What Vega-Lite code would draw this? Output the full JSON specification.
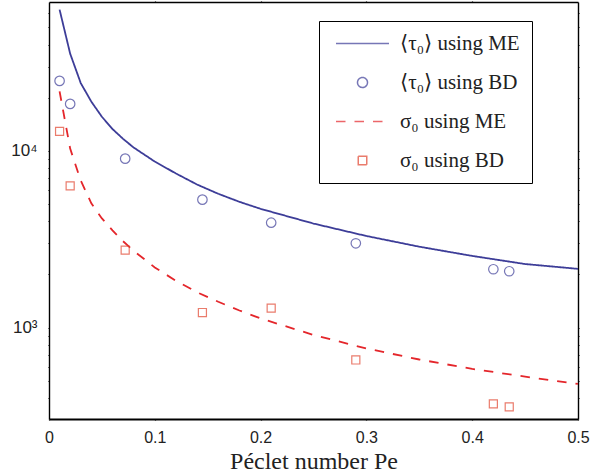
{
  "$schema": "https://vega.github.io/schema/vega-lite/v6.json",
  "width": 529,
  "height": 417,
  "autosize": "none",
  "padding": {"left": 49, "top": 2, "right": 33, "bottom": 55},
  "background": "white",
  "config": {
    "view": {"stroke": null},
    "axis": {"grid": false, "domainColor": "black", "tickColor": "black", "labelColor": "#222222", "labelFont": "Liberation Sans", "labelFontSize": 16, "domainWidth": 1.4, "tickWidth": 1.2, "labelFlush": false},
    "legend": {"orient": "none", "legendX": 270, "legendY": 19, "padding": 12, "rowPadding": 17, "symbolSize": 100, "symbolOffset": 21, "labelOffset": 27, "labelFont": "Liberation Serif, DejaVu Serif", "labelFontSize": 21, "labelColor": "#222222", "strokeColor": "black", "fillColor": "white", "symbolStrokeWidth": 1.5, "labelLimit": 300}
  },
  "data": {"values": [
    {"pe": 0.01, "val": 63000, "method": "ME", "series": "⟨τ₀⟩ using ME"},
    {"pe": 0.02, "val": 35500, "method": "ME", "series": "⟨τ₀⟩ using ME"},
    {"pe": 0.03, "val": 24200, "method": "ME", "series": "⟨τ₀⟩ using ME"},
    {"pe": 0.04, "val": 19000, "method": "ME", "series": "⟨τ₀⟩ using ME"},
    {"pe": 0.05, "val": 15600, "method": "ME", "series": "⟨τ₀⟩ using ME"},
    {"pe": 0.06, "val": 13300, "method": "ME", "series": "⟨τ₀⟩ using ME"},
    {"pe": 0.07, "val": 11700, "method": "ME", "series": "⟨τ₀⟩ using ME"},
    {"pe": 0.08, "val": 10450, "method": "ME", "series": "⟨τ₀⟩ using ME"},
    {"pe": 0.1, "val": 8700, "method": "ME", "series": "⟨τ₀⟩ using ME"},
    {"pe": 0.12, "val": 7450, "method": "ME", "series": "⟨τ₀⟩ using ME"},
    {"pe": 0.14, "val": 6450, "method": "ME", "series": "⟨τ₀⟩ using ME"},
    {"pe": 0.16, "val": 5720, "method": "ME", "series": "⟨τ₀⟩ using ME"},
    {"pe": 0.18, "val": 5150, "method": "ME", "series": "⟨τ₀⟩ using ME"},
    {"pe": 0.2, "val": 4700, "method": "ME", "series": "⟨τ₀⟩ using ME"},
    {"pe": 0.25, "val": 3880, "method": "ME", "series": "⟨τ₀⟩ using ME"},
    {"pe": 0.3, "val": 3300, "method": "ME", "series": "⟨τ₀⟩ using ME"},
    {"pe": 0.35, "val": 2870, "method": "ME", "series": "⟨τ₀⟩ using ME"},
    {"pe": 0.4, "val": 2545, "method": "ME", "series": "⟨τ₀⟩ using ME"},
    {"pe": 0.45, "val": 2290, "method": "ME", "series": "⟨τ₀⟩ using ME"},
    {"pe": 0.5, "val": 2150, "method": "ME", "series": "⟨τ₀⟩ using ME"},
    {"pe": 0.01, "val": 24900, "method": "BD", "series": "⟨τ₀⟩ using BD"},
    {"pe": 0.02, "val": 18450, "method": "BD", "series": "⟨τ₀⟩ using BD"},
    {"pe": 0.072, "val": 9040, "method": "BD", "series": "⟨τ₀⟩ using BD"},
    {"pe": 0.145, "val": 5300, "method": "BD", "series": "⟨τ₀⟩ using BD"},
    {"pe": 0.21, "val": 3925, "method": "BD", "series": "⟨τ₀⟩ using BD"},
    {"pe": 0.29, "val": 3000, "method": "BD", "series": "⟨τ₀⟩ using BD"},
    {"pe": 0.42, "val": 2140, "method": "BD", "series": "⟨τ₀⟩ using BD"},
    {"pe": 0.435, "val": 2085, "method": "BD", "series": "⟨τ₀⟩ using BD"},
    {"pe": 0.01, "val": 21700, "method": "ME", "series": "σ₀ using ME"},
    {"pe": 0.02, "val": 10300, "method": "ME", "series": "σ₀ using ME"},
    {"pe": 0.03, "val": 6800, "method": "ME", "series": "σ₀ using ME"},
    {"pe": 0.04, "val": 5050, "method": "ME", "series": "σ₀ using ME"},
    {"pe": 0.05, "val": 4150, "method": "ME", "series": "σ₀ using ME"},
    {"pe": 0.06, "val": 3550, "method": "ME", "series": "σ₀ using ME"},
    {"pe": 0.07, "val": 3080, "method": "ME", "series": "σ₀ using ME"},
    {"pe": 0.08, "val": 2720, "method": "ME", "series": "σ₀ using ME"},
    {"pe": 0.1, "val": 2190, "method": "ME", "series": "σ₀ using ME"},
    {"pe": 0.12, "val": 1840, "method": "ME", "series": "σ₀ using ME"},
    {"pe": 0.14, "val": 1585, "method": "ME", "series": "σ₀ using ME"},
    {"pe": 0.16, "val": 1400, "method": "ME", "series": "σ₀ using ME"},
    {"pe": 0.18, "val": 1250, "method": "ME", "series": "σ₀ using ME"},
    {"pe": 0.2, "val": 1127, "method": "ME", "series": "σ₀ using ME"},
    {"pe": 0.25, "val": 909, "method": "ME", "series": "σ₀ using ME"},
    {"pe": 0.3, "val": 762, "method": "ME", "series": "σ₀ using ME"},
    {"pe": 0.35, "val": 660, "method": "ME", "series": "σ₀ using ME"},
    {"pe": 0.4, "val": 584, "method": "ME", "series": "σ₀ using ME"},
    {"pe": 0.45, "val": 528, "method": "ME", "series": "σ₀ using ME"},
    {"pe": 0.5, "val": 480, "method": "ME", "series": "σ₀ using ME"},
    {"pe": 0.01, "val": 12900, "method": "BD", "series": "σ₀ using BD"},
    {"pe": 0.02, "val": 6340, "method": "BD", "series": "σ₀ using BD"},
    {"pe": 0.072, "val": 2743, "method": "BD", "series": "σ₀ using BD"},
    {"pe": 0.145, "val": 1217, "method": "BD", "series": "σ₀ using BD"},
    {"pe": 0.21, "val": 1289, "method": "BD", "series": "σ₀ using BD"},
    {"pe": 0.29, "val": 656, "method": "BD", "series": "σ₀ using BD"},
    {"pe": 0.42, "val": 370, "method": "BD", "series": "σ₀ using BD"},
    {"pe": 0.435, "val": 356, "method": "BD", "series": "σ₀ using BD"}
  ]},
  "layer": [
    {
      "transform": [{"filter": "datum.method == 'ME'"}],
      "mark": {"type": "line", "strokeWidth": 1.8},
      "encoding": {
        "x": {"field": "pe", "type": "quantitative",
          "scale": {"domain": [0, 0.5], "nice": false, "zero": false},
          "axis": {"orient": "bottom", "values": [0, 0.1, 0.2, 0.3, 0.4, 0.5],
            "labelExpr": "datum.value == 0 ? '0' : format(datum.value, '.1f')",
            "tickSize": 1, "labelPadding": 9, "domainWidth": 2,
            "encode": {"ticks": {"update": {"y2": {"value": -5}}}},
            "title": "Péclet number Pe", "titleFont": "Liberation Serif", "titleFontSize": 24, "titleFontWeight": "normal", "titleColor": "#222222", "titlePadding": 4}},
        "y": {"field": "val", "type": "quantitative",
          "scale": {"type": "log", "domain": [304, 69600], "nice": false},
          "axis": {"orient": "left",
            "values": [400, 500, 600, 700, 800, 900, 1000, 2000, 3000, 4000, 5000, 6000, 7000, 8000, 9000, 10000, 20000, 30000, 40000, 50000, 60000],
            "labelExpr": "datum.value == 1000 ? '10³' : datum.value == 10000 ? '10⁴' : ''",
            "tickSize": 1, "labelFontSize": 17,
            "encode": {"ticks": {"update": {"x2": {"signal": "datum.value == 1000 || datum.value == 10000 ? 5 : 3"}}}},
            "labelPadding": 11, "title": null}},
        "color": {"field": "series", "type": "nominal",
          "scale": {"domain": ["⟨τ₀⟩ using ME", "⟨τ₀⟩ using BD", "σ₀ using ME", "σ₀ using BD"], "range": ["#3d3d98", "#3d3d98", "#e4262b", "#e2452f"]},
          "legend": {"title": null}},
        "strokeDash": {"field": "series", "type": "nominal",
          "scale": {"domain": ["⟨τ₀⟩ using ME", "⟨τ₀⟩ using BD", "σ₀ using ME", "σ₀ using BD"], "range": [[1, 0], [1, 0], [9.5, 9], [1, 0]]},
          "legend": {"title": null}}
      }
    },
    {
      "transform": [{"filter": "datum.method == 'BD'"}],
      "mark": {"type": "point", "filled": false, "size": 90, "strokeWidth": 1.2},
      "encoding": {
        "x": {"field": "pe", "type": "quantitative",
          "axis": {"orient": "top", "values": [0.1, 0.2, 0.3, 0.4], "labels": false, "tickSize": 1,
            "encode": {"ticks": {"update": {"y2": {"value": 5}}}}, "title": null}},
        "y": {"field": "val", "type": "quantitative",
          "axis": {"orient": "right",
            "values": [400, 500, 600, 700, 800, 900, 1000, 2000, 3000, 4000, 5000, 6000, 7000, 8000, 9000, 10000, 20000, 30000, 40000, 50000, 60000],
            "labels": false, "tickSize": 1,
            "encode": {"ticks": {"update": {"x2": {"signal": "datum.value == 1000 || datum.value == 10000 ? -5 : -3"}}}},
            "title": null}},
        "color": {"field": "series", "type": "nominal", "legend": {"title": null}},
        "shape": {"field": "series", "type": "nominal",
          "scale": {"domain": ["⟨τ₀⟩ using ME", "⟨τ₀⟩ using BD", "σ₀ using ME", "σ₀ using BD"], "range": ["M-5.3,0L5.3,0", "circle", "M-5.3,0L5.3,0", "M-0.85,-0.85H0.85V0.85H-0.85Z"]},
          "legend": {"title": null}}
      }
    }
  ]
}
